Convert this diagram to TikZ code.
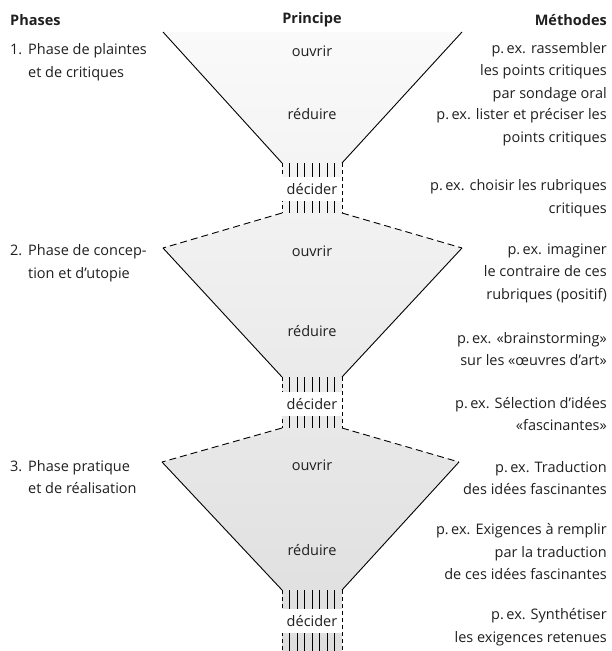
\documentclass[tikz,border=0pt]{standalone}
\usepackage{fontspec}
\setmainfont{Open Sans}
\usetikzlibrary{calc,arrows,shapes,backgrounds}
\tikzset{
    txt/.style = {font=\fontsize{14.5}{22.5}\selectfont, inner sep=0pt, text=black!88},
    head/.style = {txt, font=\fontsize{14.5}{22.5}\selectfont\bfseries},
    phase/.style = {txt, anchor=west, align=left},
    method/.style = {txt, anchor=east, align=right},
    verb/.style = {txt, anchor=center},
    decide/.style = {txt, fill=white, minimum width=60pt, minimum height=24pt},
    wall/.style = {draw, line width=0.9pt},
    rim/.style = {draw, line width=0.9pt, dash pattern=on 7pt off 4pt},
    neckside/.style = {draw, line width=0.9pt, dash pattern=on 4pt off 3pt},
    bar/.style = {draw, line width=1pt}
}
\newcommand{\Hang}[1]{\makebox[18pt][l]{#1}}
\newcommand{\pex}{p.\,ex.}

\begin{document}
\begin{tikzpicture}[x=1pt, y=-1pt]
        \useasboundingbox (0,0) rectangle (611,651);
        \coordinate (f1l) at (163,32);
        \coordinate (f1r) at (462,32);
        \coordinate (n1tl) at (282,163);
        \coordinate (n1tr) at (342,163);
        \coordinate (n1bl) at (282,213);
        \coordinate (n1br) at (342,213);
        \coordinate (f2l) at (163,248);
        \coordinate (f2r) at (462,248);
        \coordinate (n2tl) at (282,377);
        \coordinate (n2tr) at (342,377);
        \coordinate (n2bl) at (282,428);
        \coordinate (n2br) at (342,428);
        \coordinate (f3l) at (162,462);
        \coordinate (f3r) at (459,462);
        \coordinate (n3tl) at (282,590);
        \coordinate (n3tr) at (342,590);
        \coordinate (n3bl) at (282,651);
        \coordinate (n3br) at (342,651);
        \shade[top color=gray!4, bottom color=gray!26] (f1l) -- (f1r) -- (n1tr) -- (n1br) -- (f2r) -- (n2tr) -- (n2br)
            -- (f3r) -- (n3tr) -- (n3br) -- (n3bl) -- (n3tl) -- (f3l) -- (n2bl) -- (n2tl) -- (f2l) -- (n1bl) -- (n1tl) -- cycle;
        \draw[wall] (f1l) -- (n1tl);
        \draw[wall] (f1r) -- (n1tr);
        \draw[rim] (n1bl) -- (f2l);
        \draw[rim] (n1br) -- (f2r);
        \draw[wall] (f2l) -- (n2tl);
        \draw[wall] (f2r) -- (n2tr);
        \draw[rim] (n2bl) -- (f3l);
        \draw[rim] (n2br) -- (f3r);
        \draw[wall] (f3l) -- (n3tl);
        \draw[wall] (f3r) -- (n3tr);
        \foreach \n in {1,2,3} {
            \draw[neckside] (n\n tl) -- (n\n bl);
            \draw[neckside] (n\n tr) -- (n\n br);
            \foreach \k in {1,...,7}
                \draw[bar] ($(n\n tl)!\k/8!(n\n tr)$) -- ($(n\n bl)!\k/8!(n\n br)$);
        }
        \node[decide] (dec1) at (312,189) {décider};
        \node[decide] (dec2) at (312,404) {décider};
        \node[decide] (dec3) at (312,621) {décider};
        \node[verb] (ouv1) at (312,51) {ouvrir};
        \node[verb] (red1) at (312,114) {réduire};
        \node[verb] (ouv2) at (312,251) {ouvrir};
        \node[verb] (red2) at (312,331) {réduire};
        \node[verb] (ouv3) at (312,465) {ouvrir};
        \node[verb] (red3) at (312,550) {réduire};
        \node[head, anchor=west] (hphase) at (10,20) {Phases};
        \node[head] (hprin) at (312,20) {Principe};
        \node[head, anchor=east] (hmeth) at (607,20) {Méthodes};
        \node[phase] (ph1) at (10,62) {\Hang{1.}Phase de plaintes\\\Hang{}et de critiques};
        \node[phase] (ph2) at (10,263) {\Hang{2.}Phase de concep-\\\Hang{}tion et d’utopie};
        \node[phase] (ph3) at (10,477) {\Hang{3.}Phase pratique\\\Hang{}et de réalisation};
        \node[method] (m1a) at (607,72) {\pex{} rassembler\\les points critiques\\par sondage oral};
        \node[method] (m1b) at (607,127) {\pex{} lister et préciser les\\points critiques};
        \node[method] (m1c) at (607,198) {\pex{} choisir les rubriques\\critiques};
        \node[method] (m2a) at (607,273) {\pex{} imaginer\\le contraire de ces\\rubriques (positif)};
        \node[method] (m2b) at (607,349) {\pex{} «brainstorming»\\sur les «œuvres d’art»};
        \node[method] (m2c) at (607,414) {\pex{} Sélection d’idées\\«fascinantes»};
        \node[method] (m3a) at (607,478) {\pex{} Traduction\\des idées fascinantes};
        \node[method] (m3b) at (607,552) {\pex{} Exigences à remplir\\par la traduction\\de ces idées fascinantes};
        \node[method] (m3c) at (607,627) {\pex{} Synthétiser\\les exigences retenues};
\end{tikzpicture}
\end{document}
